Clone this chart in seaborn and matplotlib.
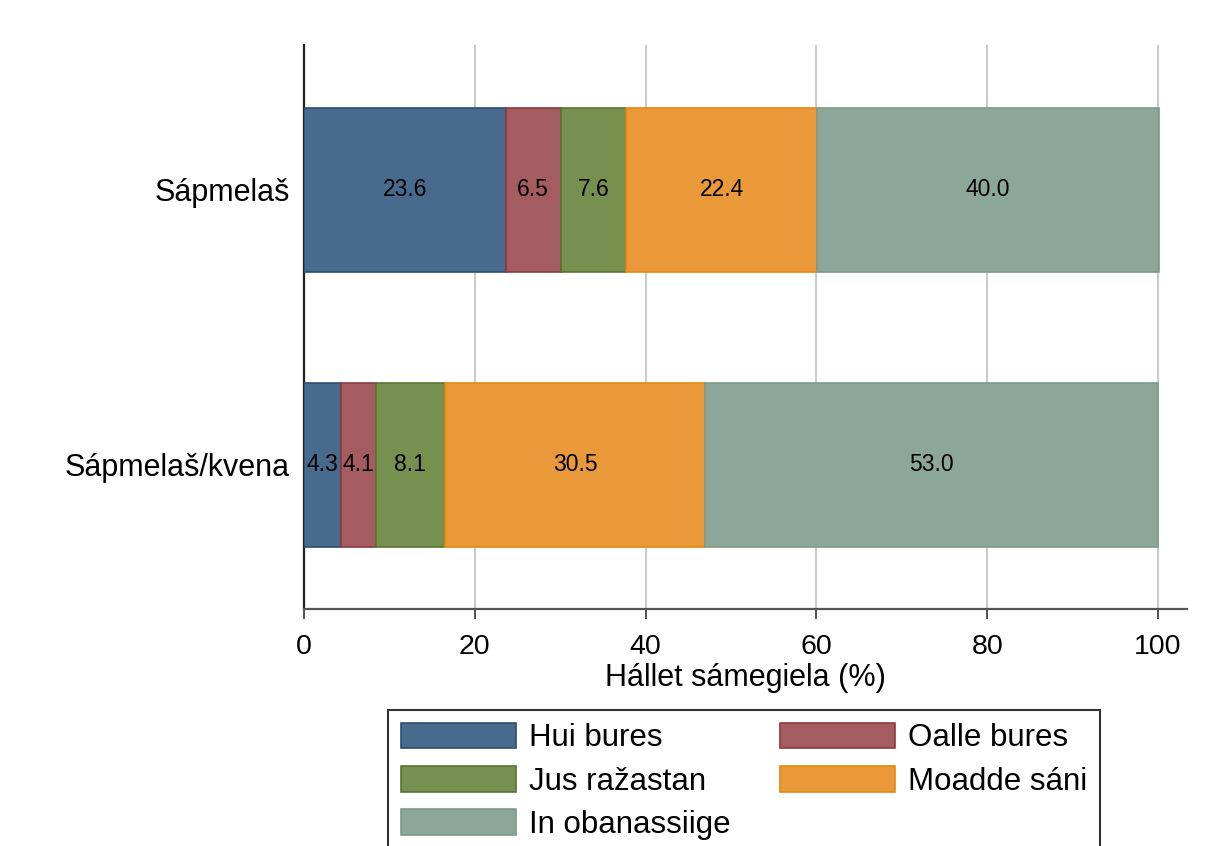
import matplotlib
matplotlib.use("Agg")
import matplotlib.pyplot as plt
import seaborn as sns
import pandas as pd
import numpy as np

# data
groups = ["Sápmelaš", "Sápmelaš/kvena"]
categories = ["Hui bures", "Oalle bures", "Jus ražastan", "Moadde sáni", "In obanassiige"]
hui_bures = [23.6, 4.3]
oalle_bures = [6.5, 4.1]
jus_razastan = [7.6, 8.1]
moadde_sani = [22.4, 30.5]
in_obanassiige = [40.0, 53.0]
x_ticks = [0, 20, 40, 60, 80, 100]

face_colors = ["#486a8c", "#a55c61", "#76904f", "#e9983a", "#8ca79a"]
edge_colors = ["#2b4e72", "#8e3a41", "#5a7433", "#e8870f", "#7c9c8c"]

sns.set_theme(style="white")
plt.rcParams["font.family"] = ["Liberation Sans", "DejaVu Sans"]
plt.rcParams["text.color"] = "black"

series = [hui_bures, oalle_bures, jus_razastan, moadde_sani, in_obanassiige]
df = pd.DataFrame({"group": groups})
for name, vals in zip(categories, series):
    df[name] = vals

fig = plt.figure(figsize=(12.11, 8.46), dpi=100)
ax = fig.add_axes([304 / 1211, 1 - 609 / 846, (1187 - 304) / 1211, (609 - 45) / 846])

# stacked bars: each segment starts where the previous one ended
left = np.zeros(len(groups))
for name, fc, ec in zip(categories, face_colors, edge_colors):
    sns.barplot(
        data=df,
        x=name,
        y="group",
        order=groups,
        left=left.copy(),
        color=fc,
        edgecolor=ec,
        linewidth=1.2,
        saturation=1,
        width=0.596,
        label=name,
        legend=False,
        ax=ax,
        zorder=3,
    )
    left = left + df[name].values

for container in ax.containers:
    ax.bar_label(container, fmt="%.1f", label_type="center", fontsize=16.5, color="black")

if ax.get_legend() is not None:
    ax.get_legend().remove()

ax.set_xlim(0, 103.4)
ax.set_ylim(1.524, -0.527)
ax.set_xticks(x_ticks)
ax.xaxis.grid(True, color="#cccccc", linewidth=1.5, zorder=0)
ax.yaxis.grid(False)
ax.set_axisbelow(True)

for side in ["top", "right"]:
    ax.spines[side].set_visible(False)
ax.spines["left"].set_color("#222222")
ax.spines["left"].set_linewidth(1.6)
ax.spines["bottom"].set_color("#555555")
ax.spines["bottom"].set_linewidth(1.6)

ax.tick_params(axis="x", direction="out", length=7, width=1.2, color="#333333",
               labelsize=20.5, pad=11, bottom=True)
ax.tick_params(axis="y", length=0, labelsize=22, pad=10)
ax.set_ylabel("")
ax.set_xlabel("Hállet sámegiela (%)", fontsize=22, labelpad=2, color="black")
for lbl in ax.get_xticklabels() + ax.get_yticklabels():
    lbl.set_color("black")

# legend filled row by row: reorder for matplotlib's column-major layout
handles = [c.patches[0] for c in ax.containers]
order = [0, 2, 4, 1, 3]
leg = fig.legend(
    [handles[i] for i in order], [categories[i] for i in order],
    loc="upper left",
    bbox_to_anchor=(388 / 1211, 1 - 710 / 846),
    bbox_transform=fig.transFigure,
    borderaxespad=0,
    ncol=2,
    fontsize=22.5,
    frameon=True,
    fancybox=False,
    edgecolor="black",
    handlelength=3.68,
    handleheight=0.9,
    handletextpad=0.42,
    columnspacing=1.6,
    labelspacing=0.4,
    borderpad=0.4,
    labelcolor="black",
)
leg.get_frame().set_linewidth(1.5)

fig.savefig("out.png", dpi=100)
